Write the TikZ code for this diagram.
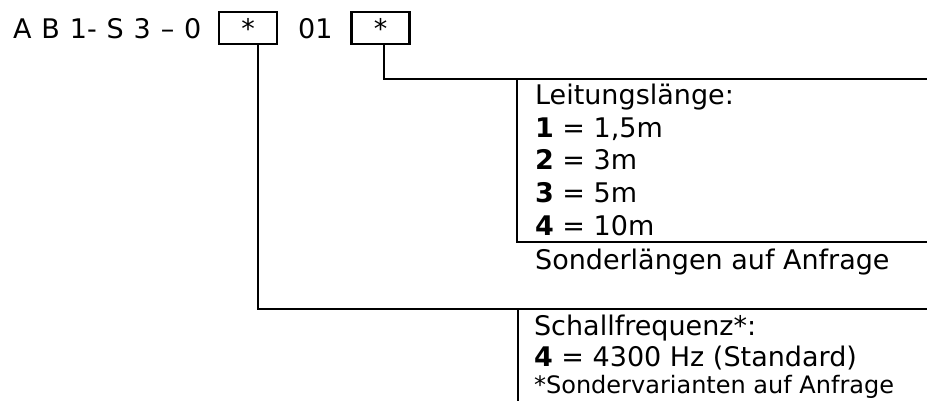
\documentclass[tikz,border=0pt]{standalone}
\usepackage{fontspec}
\setmainfont{DejaVu Sans}
\begin{document}
\begin{tikzpicture}[x=1pt,y=-1pt,line width=2.2pt,
  txt/.style={anchor=base west,inner sep=0pt,font=\fontsize{27}{32}\selectfont},
  small/.style={txt,font=\fontsize{24}{28}\selectfont},
  codebox/.style={draw,line width=2.2pt,inner sep=0pt,minimum width=58pt,minimum height=32pt,font=\fontsize{27}{32}\selectfont},
  wire/.style={draw,line width=2.2pt}]
\useasboundingbox (0,0) rectangle (927,401);
% code line
\node[txt] (code) at (12,38.5) {\spaceskip=9.9pt A B 1- S 3 – 0};
\node[codebox] (b1) at (248,28) {\raisebox{-3.5pt}{*}};
\node[txt] (mid) at (297,38.5) {01};
\node[codebox] (b2) at (380.5,28) {\raisebox{-3.5pt}{*}};
% connector to Leitungslaenge
\coordinate (k2) at (384,79);
\coordinate (e2) at (927,79);
\coordinate (t2) at (517,79);
\coordinate (u2) at (517,242);
\coordinate (f2) at (927,242);
\draw[wire] (b2.south -| k2) -- (k2) -- (e2);
\draw[wire] (t2) -- (u2) -- (f2);
% connector to Schallfrequenz
\coordinate (k1) at (258,309);
\coordinate (e1) at (927,309);
\coordinate (t1) at (518,309);
\coordinate (u1) at (518,401);
\draw[wire] (b1.south -| k1) -- (k1) -- (e1);
\draw[wire] (t1) -- (u1);
% texts
\node[txt] (l0) at (534,105) {Leitungslänge:};
\node[txt] (l1) at (534,137.5) {\textbf{1} = 1,5m};
\node[txt] (l2) at (534,170) {\textbf{2} = 3m};
\node[txt] (l3) at (534,202.5) {\textbf{3} = 5m};
\node[txt] (l4) at (534,235) {\textbf{4} = 10m};
\node[txt] (l5) at (534,269) {Sonderlängen auf Anfrage};
\node[txt] (s0) at (533,335) {Schallfrequenz*:};
\node[txt] (s1) at (533,366.5) {\textbf{4} = 4300 Hz (Standard)};
\node[small] (s2) at (533,393) {*Sondervarianten auf Anfrage};
\end{tikzpicture}
\end{document}
